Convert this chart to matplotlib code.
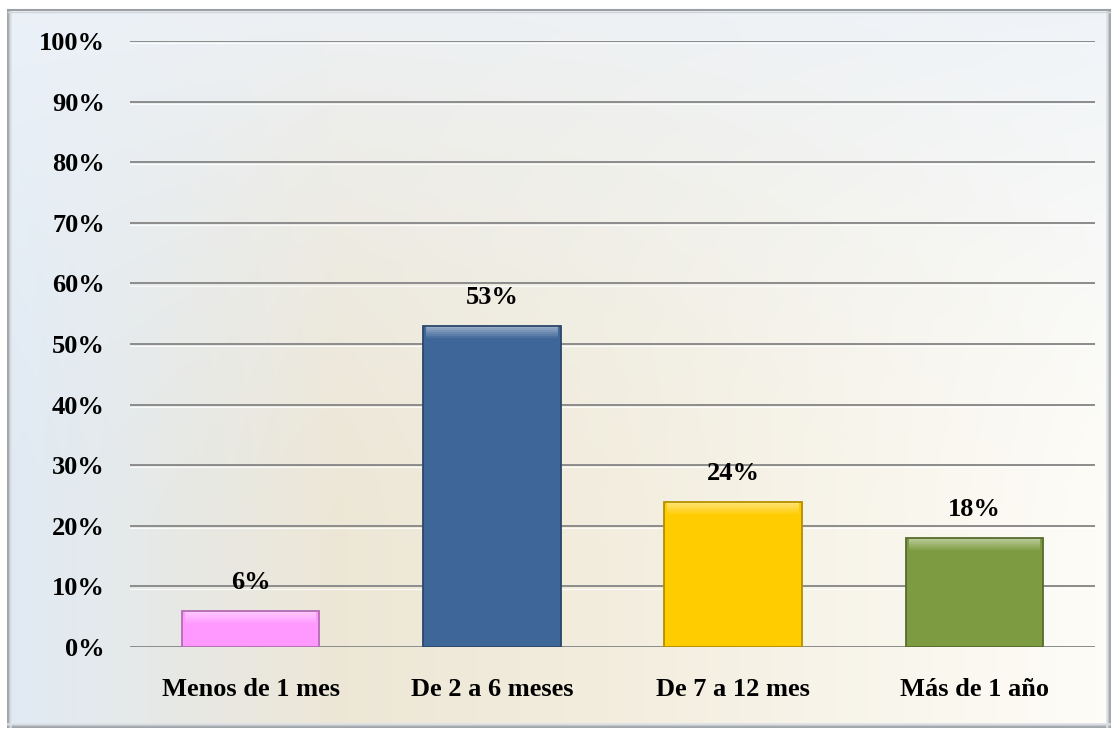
import numpy as np
import matplotlib
matplotlib.use("Agg")
import matplotlib.pyplot as plt
from matplotlib.patches import Rectangle
from matplotlib.ticker import FuncFormatter

# Data
categories = ["Menos de 1 mes", "De 2 a 6 meses", "De 7 a 12 mes", "Más de 1 año"]
values = [6, 53, 24, 18]
bar_colors = ["#ff99ff", "#3e6698", "#ffcc00", "#7d9b41"]
yticks = [0, 10, 20, 30, 40, 50, 60, 70, 80, 90, 100]

W, H = 1117, 732
fig = plt.figure(figsize=(W / 100, H / 100), dpi=100)
fig.patch.set_facecolor("white")

# Background panel with soft colour gradient
bg = fig.add_axes([0, 0, 1, 1], zorder=0)
bg.set_xlim(0, W)
bg.set_ylim(H, 0)
bg.axis("off")

fx0, fx1, fy0, fy1 = 8, 1110, 10, 727
xs = np.linspace(0, 1, fx1 - fx0)
ys = np.linspace(0, 1, fy1 - fy0)
stops_t = [0.0, 0.3, 0.55, 1.0]
stops_c = np.array([[0.88, 0.92, 0.96],
                    [0.93, 0.905, 0.84],
                    [0.95, 0.93, 0.87],
                    [0.995, 0.99, 0.97]])
row = np.stack([np.interp(xs, stops_t, stops_c[:, k]) for k in range(3)], axis=1)
img = np.repeat(row[None, :, :], len(ys), axis=0)
top_tint = np.array([0.93, 0.95, 0.975])
w = (np.clip(1 - ys / 0.75, 0, 1) ** 1.6 * 0.85)[:, None, None]
img = img * (1 - w) + top_tint * w
bg.imshow(img, extent=(fx0, fx1, fy1, fy0), aspect="auto", interpolation="bilinear", zorder=0)

# Bevelled frame edges
for i, c in enumerate(["#8f959b", "#a9afb5", "#c4c9ce", "#dde1e5"]):
    bg.plot([fx0 + i, fx0 + i], [fy0, fy1], color=c, lw=1.2, zorder=1)
    bg.plot([fx1 - i, fx1 - i], [fy0, fy1], color=c, lw=1.2, zorder=1)
    bg.plot([fx0, fx1], [fy1 - i, fy1 - i], color=c, lw=1.2, zorder=1)
bg.plot([fx0, fx1], [fy0, fy0], color="#9aa0a6", lw=1.5, zorder=1)
bg.plot([fx0, fx1], [fy0 + 1.5, fy0 + 1.5], color="#d0d5da", lw=1.0, zorder=1)

# Chart axes
ax = fig.add_axes([130 / W, 85 / H, (1095 - 130) / W, (647 - 41) / H], zorder=2)
ax.patch.set_alpha(0)
x = np.arange(len(categories))
ax.set_xlim(-0.5, len(categories) - 0.5)
ax.set_ylim(0, 100)

font = dict(family="Liberation Serif", weight="bold", size=19)

for yv in yticks:
    ax.axhline(yv, color="#8c8c8c", lw=1.4, zorder=1)
    ax.axhline(yv - 0.35, color="white", lw=0.8, alpha=0.8, zorder=1)

bw = 0.57
bars = ax.bar(x, values, width=bw, color=bar_colors, edgecolor="none", zorder=3)


def shade(c, f):
    rgb = np.array(matplotlib.colors.to_rgb(c))
    if f > 0:
        return tuple(rgb + (1 - rgb) * f)
    return tuple(rgb * (1 + f))


steps = 6
band = 2.0
for b, v, c in zip(bars, values, bar_colors):
    x0 = b.get_x()
    # soft bevel: light gradient along the top edge fading into the fill
    for k in range(steps):
        f = 0.45 * (1 - k / steps)
        ax.add_patch(Rectangle((x0 + 0.012, v - band * (k + 1) / steps), bw - 0.024, band / steps,
                               fc=shade(c, f), ec="none", zorder=4))
    # darker outline
    ax.add_patch(Rectangle((x0, 0), bw, v, fill=False, ec=shade(c, -0.3), lw=1.3, zorder=5))
    ax.annotate(f"{v}%", (b.get_x() + bw / 2, v), xytext=(0, 12), textcoords="offset points",
                ha="center", va="bottom", zorder=6, **font)

ax.set_yticks(yticks)
ax.yaxis.set_major_formatter(FuncFormatter(lambda v, p: f"{v:.0f}%"))
ax.set_xticks(x)
ax.set_xticklabels(categories)
for lab in ax.get_xticklabels() + ax.get_yticklabels():
    lab.set_fontfamily("Liberation Serif")
    lab.set_fontweight("bold")
    lab.set_fontsize(19)
ax.tick_params(axis="y", length=0, pad=18)
ax.tick_params(axis="x", length=0, pad=22)
for s in ax.spines.values():
    s.set_visible(False)

fig.savefig("out.png", dpi=100)
